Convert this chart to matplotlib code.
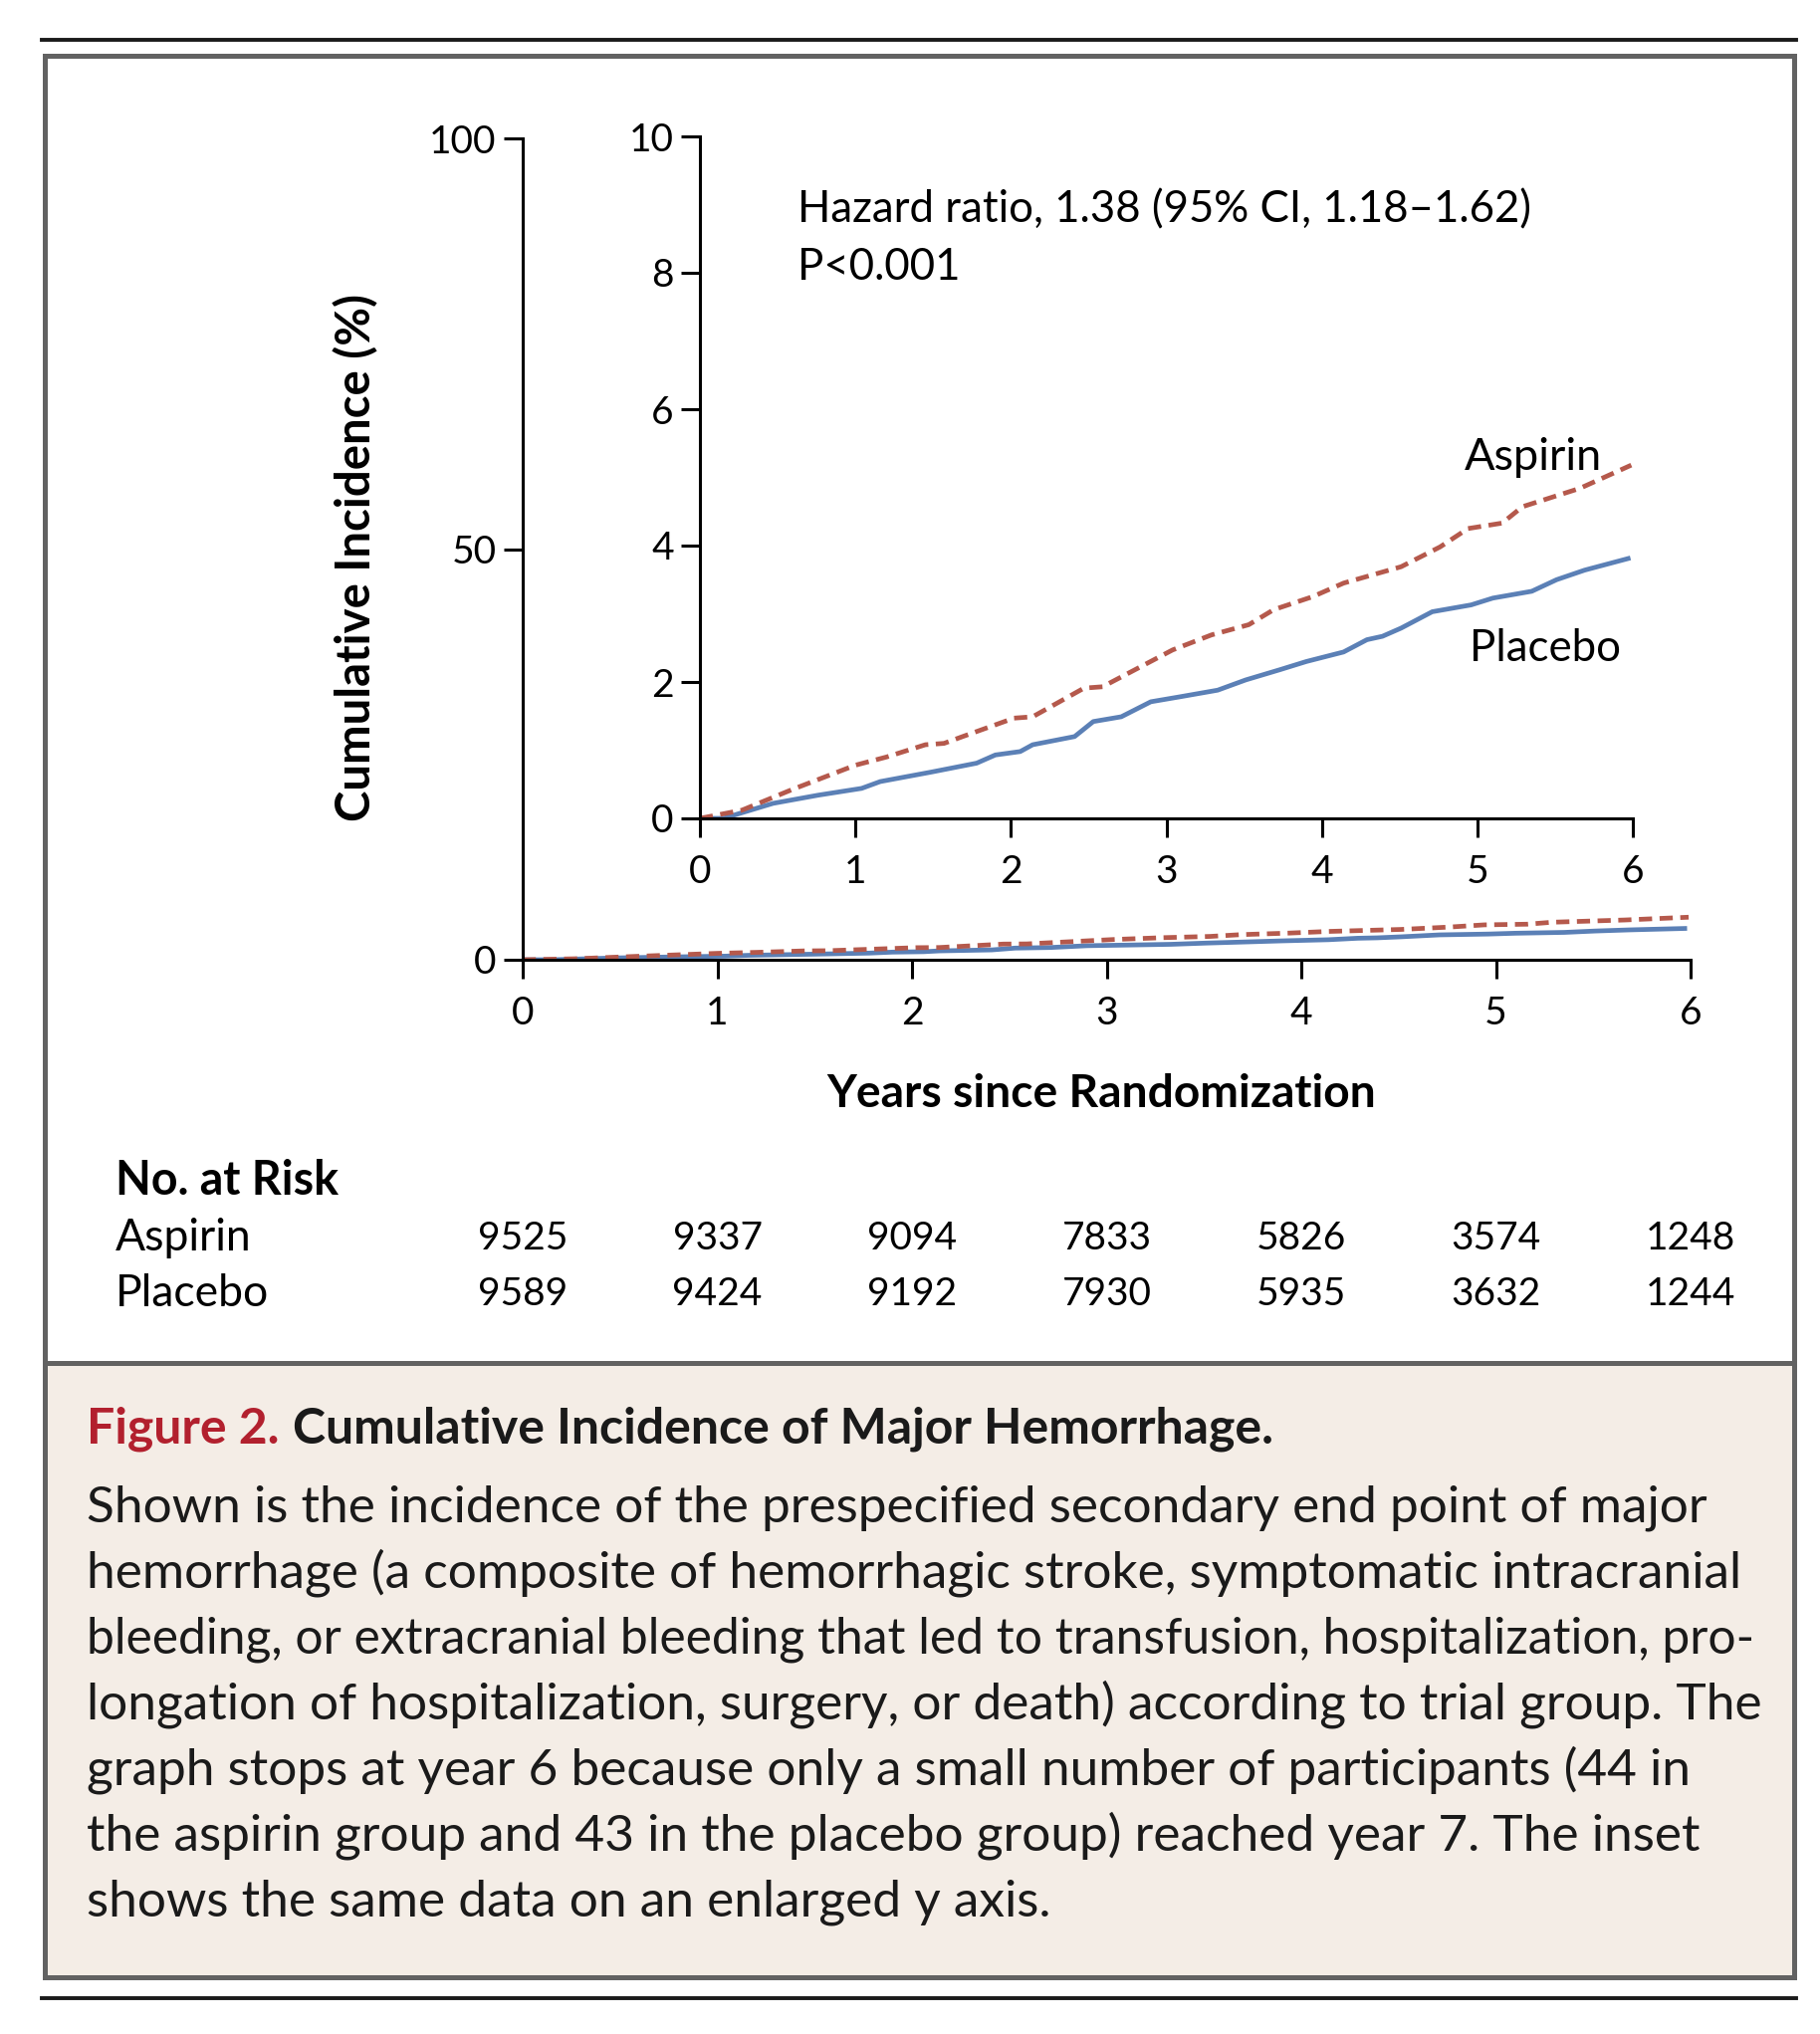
import matplotlib
matplotlib.use("Agg")
import matplotlib.pyplot as plt
from matplotlib.patches import Rectangle
from matplotlib.lines import Line2D
from matplotlib.transforms import blended_transform_factory

plt.rcParams['font.family'] = ['Lato', 'DejaVu Sans']

# curves (years, cumulative incidence %)
placebo_years = [0, 0.15, 0.47, 0.76, 1.04, 1.16, 1.49, 1.78, 1.90, 2.06, 2.14, 2.41, 2.53, 2.71,
                 2.90, 3.08, 3.33, 3.51, 3.73, 3.90, 4.14, 4.29, 4.39, 4.51, 4.71, 4.96, 5.10,
                 5.35, 5.51, 5.69, 5.97]
placebo_inc = [0, 0.0, 0.22, 0.34, 0.44, 0.54, 0.68, 0.81, 0.93, 0.98, 1.08, 1.20, 1.42, 1.49,
               1.71, 1.78, 1.88, 2.03, 2.18, 2.30, 2.44, 2.62, 2.67, 2.79, 3.03, 3.13, 3.23,
               3.33, 3.50, 3.64, 3.81]
aspirin_years = [0, 0.27, 0.59, 1.0, 1.20, 1.45, 1.57, 1.69, 2.02, 2.14, 2.47, 2.59, 3.04, 3.29,
                 3.53, 3.69, 3.94, 4.14, 4.51, 4.76, 4.94, 5.16, 5.29, 5.66, 5.99]
aspirin_inc = [0, 0.12, 0.42, 0.78, 0.90, 1.08, 1.10, 1.20, 1.47, 1.49, 1.91, 1.93, 2.47, 2.69,
               2.84, 3.06, 3.25, 3.45, 3.69, 3.98, 4.25, 4.33, 4.57, 4.84, 5.18]

risk_years = [0, 1, 2, 3, 4, 5, 6]
risk_aspirin = [9525, 9337, 9094, 7833, 5826, 3574, 1248]
risk_placebo = [9589, 9424, 9192, 7930, 5935, 3632, 1244]

caption_title_red = "Figure 2."
caption_title = "Cumulative Incidence of Major Hemorrhage."
caption_lines = [
    "Shown is the incidence of the prespecified secondary end point of major",
    "hemorrhage (a composite of hemorrhagic stroke, symptomatic intracranial",
    "bleeding, or extracranial bleeding that led to transfusion, hospitalization, pro-",
    "longation of hospitalization, surgery, or death) according to trial group. The",
    "graph stops at year 6 because only a small number of participants (44 in",
    "the aspirin group and 43 in the placebo group) reached year 7. The inset",
    "shows the same data on an enlarged y axis.",
]
caption_sizes = [37, 37, 35.8, 37, 37, 37, 37]

W, H = 1828, 2043
BLUE = "#5b80b6"
RED = "#b5594c"
FRAME = "#626262"
INK = "#1a1a1a"


def fx(x):
    return x / W


def fy(y):
    return 1 - y / H


fig = plt.figure(figsize=(W / 100, H / 100), dpi=100)

# frame, caption box and rules
fig.add_artist(Rectangle((fx(44.5), fy(1985.5)), fx(1801.5) - fx(44.5), fy(1368.5) - fy(1985.5),
                         transform=fig.transFigure, facecolor="#f4ede6", edgecolor="none", zorder=0))
fig.add_artist(Rectangle((fx(44.5), fy(1985.5)), fx(1801.5) - fx(44.5), fy(55.5) - fy(1985.5),
                         transform=fig.transFigure, facecolor="none", edgecolor=FRAME, lw=3.6, zorder=1))
fig.add_artist(Line2D([fx(44.5), fx(1801.5)], [fy(1368.5), fy(1368.5)], transform=fig.transFigure,
                      color=FRAME, lw=3.6))
for yy in (40, 2007):
    fig.add_artist(Line2D([fx(42), fx(1804)], [fy(yy), fy(yy)], transform=fig.transFigure,
                          color=INK, lw=2.8))

tick_kw = dict(width=2.2, length=14, labelsize=28, color="black")


def style_axes(a):
    a.set_facecolor("none")
    for s in ("top", "right"):
        a.spines[s].set_visible(False)
    for s in ("left", "bottom"):
        a.spines[s].set_linewidth(2.2)
    a.tick_params(axis="x", pad=12, **tick_kw)
    a.tick_params(axis="y", pad=5, **tick_kw)


# main axes
ax = fig.add_axes([fx(525), fy(964), fx(1698) - fx(525), fy(139) - fy(964)])
ax.plot(placebo_years, placebo_inc, color=BLUE, lw=3.4)
ax.plot(aspirin_years, aspirin_inc, color=RED, lw=3.4, dashes=(2.8, 1.6))
ax.set_xlim(0, 6)
ax.set_ylim(0, 100)
ax.set_xticks(range(7))
ax.set_yticks([0, 50, 100])
style_axes(ax)

fig.text(fx(1106), fy(1099), "Years since Randomization", fontsize=33.2, fontweight="bold",
         ha="center", va="center")
fig.text(fx(358), fy(560), "Cumulative Incidence (%)", fontsize=34, fontweight="bold",
         ha="center", va="center", rotation=90)

# inset axes
ins = fig.add_axes([fx(703), fy(822), fx(1640) - fx(703), fy(137) - fy(822)])
ins.plot(placebo_years, placebo_inc, color=BLUE, lw=3.4)
ins.plot(aspirin_years, aspirin_inc, color=RED, lw=3.4, dashes=(2.8, 1.6))
ins.set_xlim(0, 6)
ins.set_ylim(0, 10)
ins.set_xticks(range(7))
ins.set_yticks(range(0, 11, 2))
style_axes(ins)

fig.text(fx(801), fy(211), "Hazard ratio, 1.38 (95% CI, 1.18\u20131.62)", fontsize=31.5,
         va="center", ha="left")
fig.text(fx(801), fy(268), "P<0.001", fontsize=31.5, va="center", ha="left")
fig.text(fx(1471), fy(459), "Aspirin", fontsize=32.5, va="center", ha="left")
fig.text(fx(1476), fy(651), "Placebo", fontsize=31.5, va="center", ha="left")

# numbers at risk
fig.text(fx(116), fy(1186), "No. at Risk", fontsize=33.5, fontweight="bold", va="center")
fig.text(fx(116), fy(1244), "Aspirin", fontsize=32, va="center")
fig.text(fx(116), fy(1300), "Placebo", fontsize=32, va="center")
tr = blended_transform_factory(ax.transData, fig.transFigure)
for yr, a, p in zip(risk_years, risk_aspirin, risk_placebo):
    fig.text(yr, fy(1244), str(a), transform=tr, fontsize=28, ha="center", va="center")
    fig.text(yr, fy(1300), str(p), transform=tr, fontsize=28, ha="center", va="center")

# caption
t_red = fig.text(fx(87), fy(1449), caption_title_red, fontsize=36, fontweight="bold",
                 color="#b2202e", va="baseline")
fig.canvas.draw()
bb = t_red.get_window_extent()
fig.text((bb.x1 + 13) / W, fy(1449), caption_title, fontsize=36, fontweight="bold",
         color=INK, va="baseline")
for i, (line, size) in enumerate(zip(caption_lines, caption_sizes)):
    fig.text(fx(87), fy(1528 + 66 * i), line, fontsize=size, color=INK, va="baseline")

fig.savefig("out.png", dpi=100)
